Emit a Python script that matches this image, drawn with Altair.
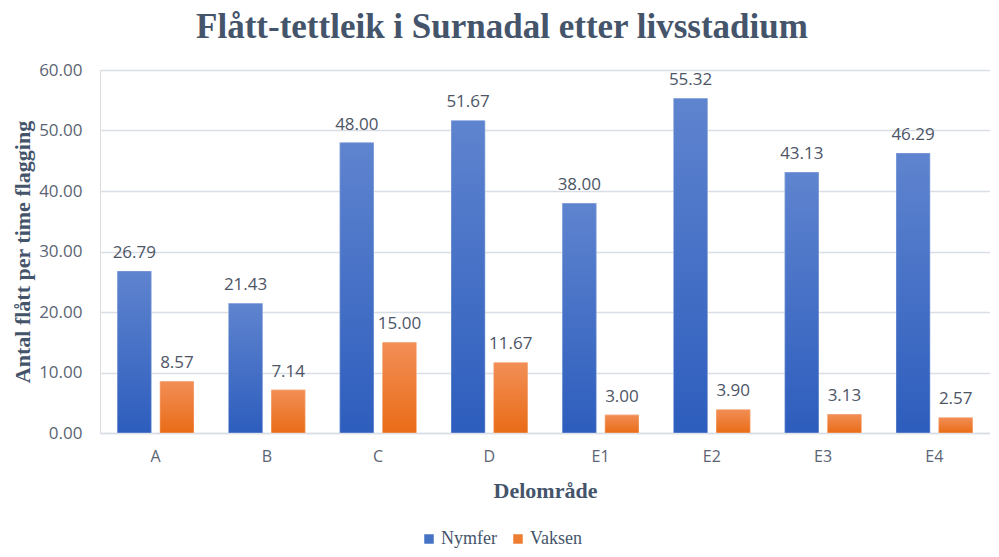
import altair as alt
import pandas as pd

cats = ["A", "B", "C", "D", "E1", "E2", "E3", "E4"]
nymfer = [26.79, 21.43, 48.00, 51.67, 38.00, 55.32, 43.13, 46.29]
vaksen = [8.57, 7.14, 15.00, 11.67, 3.00, 3.90, 3.13, 2.57]
series = ["Nymfer", "Vaksen"]
solid = ["#4472C4", "#ED7D31"]
grad_top = ["#5f84cf", "#f28e56"]
grad_bot = ["#2d5dbd", "#e96c17"]
yticks = [0, 10, 20, 30, 40, 50, 60]

rows = []
for c, n, v in zip(cats, nymfer, vaksen):
    rows.append({"Delområde": c, "Serie": "Nymfer", "Verdi": n})
    rows.append({"Delområde": c, "Serie": "Vaksen", "Verdi": v})
df = pd.DataFrame(rows)

SERIF = "Liberation Serif"
SANS = "Open Sans"
DARK = "#44546a"
GREY = "#5b6474"

x_enc = alt.X(
    "Delområde:N",
    sort=cats,
    scale=alt.Scale(paddingInner=0.31, paddingOuter=0.155),
    axis=alt.Axis(
        title="Delområde",
        labelAngle=0,
        labelFont=SANS,
        labelFontSize=16,
        labelColor=GREY,
        labelPadding=15,
        ticks=False,
        domainColor="#d9dde5",
        domainWidth=1.5,
        titleFont=SERIF,
        titleFontSize=22,
        titleFontWeight="bold",
        titleColor=DARK,
        titlePadding=16,
    ),
)
xoff_enc = alt.XOffset("Serie:N", sort=series, scale=alt.Scale(paddingInner=0.2))
y_enc = alt.Y(
    "Verdi:Q",
    scale=alt.Scale(domain=[0, 60], nice=False),
    axis=alt.Axis(
        title="Antal flått per time flagging",
        values=yticks,
        format=".2f",
        labelFont=SANS,
        labelFontSize=17,
        labelColor=GREY,
        labelPadding=18,
        ticks=False,
        domain=False,
        gridColor="#d9dde5",
        gridWidth=1.5,
        titleFont=SERIF,
        titleFontSize=22,
        titleFontWeight="bold",
        titleColor=DARK,
        titlePadding=4,
    ),
)

base = alt.Chart(df).encode(x=x_enc, xOffset=xoff_enc, y=y_enc)

legend_bars = base.mark_bar().encode(
    color=alt.Color(
        "Serie:N",
        sort=series,
        scale=alt.Scale(domain=series, range=solid),
        legend=alt.Legend(
            title=None,
            orient="none",
            direction="horizontal",
            legendX=320,
            legendY=460,
            symbolType="square",
            symbolSize=90,
            symbolStrokeWidth=0,
            labelFont=SERIF,
            labelFontSize=18,
            labelColor=DARK,
            columnPadding=12,
            labelOffset=3,
        ),
    )
)

layers = [legend_bars]
for s, t, b in zip(series, grad_top, grad_bot):
    layers.append(
        base.transform_filter(alt.datum.Serie == s).mark_bar(
            color=alt.Gradient(
                gradient="linear",
                stops=[
                    alt.GradientStop(color=t, offset=0),
                    alt.GradientStop(color=b, offset=1),
                ],
                x1=0, x2=0, y1=0, y2=1,
            ),
            stroke="#ffffff",
            strokeOpacity=0.35,
            strokeWidth=1,
        )
    )

labels = base.mark_text(
    baseline="bottom", dy=-9, font=SANS, fontSize=17, color="#4d5566"
).encode(text=alt.Text("Verdi:Q", format=".2f"))
layers.append(labels)

chart = (
    alt.layer(*layers)
    .properties(
        width=890,
        height=363,
        autosize=alt.AutoSizeParams(type="none"),
        padding={"left": 92, "top": 62, "right": 0, "bottom": 116},
        title=alt.Title(
            "Flått-tettleik i Surnadal etter livsstadium",
            font=SERIF,
            fontSize=35,
            fontWeight="bold",
            color=DARK,
            anchor="middle",
            dx=-43,
            offset=16,
        ),
    )
    .configure_view(stroke=None)
    .configure(background="white")
)

chart.save("out.html", embed_options={"renderer": "svg", "actions": False})
